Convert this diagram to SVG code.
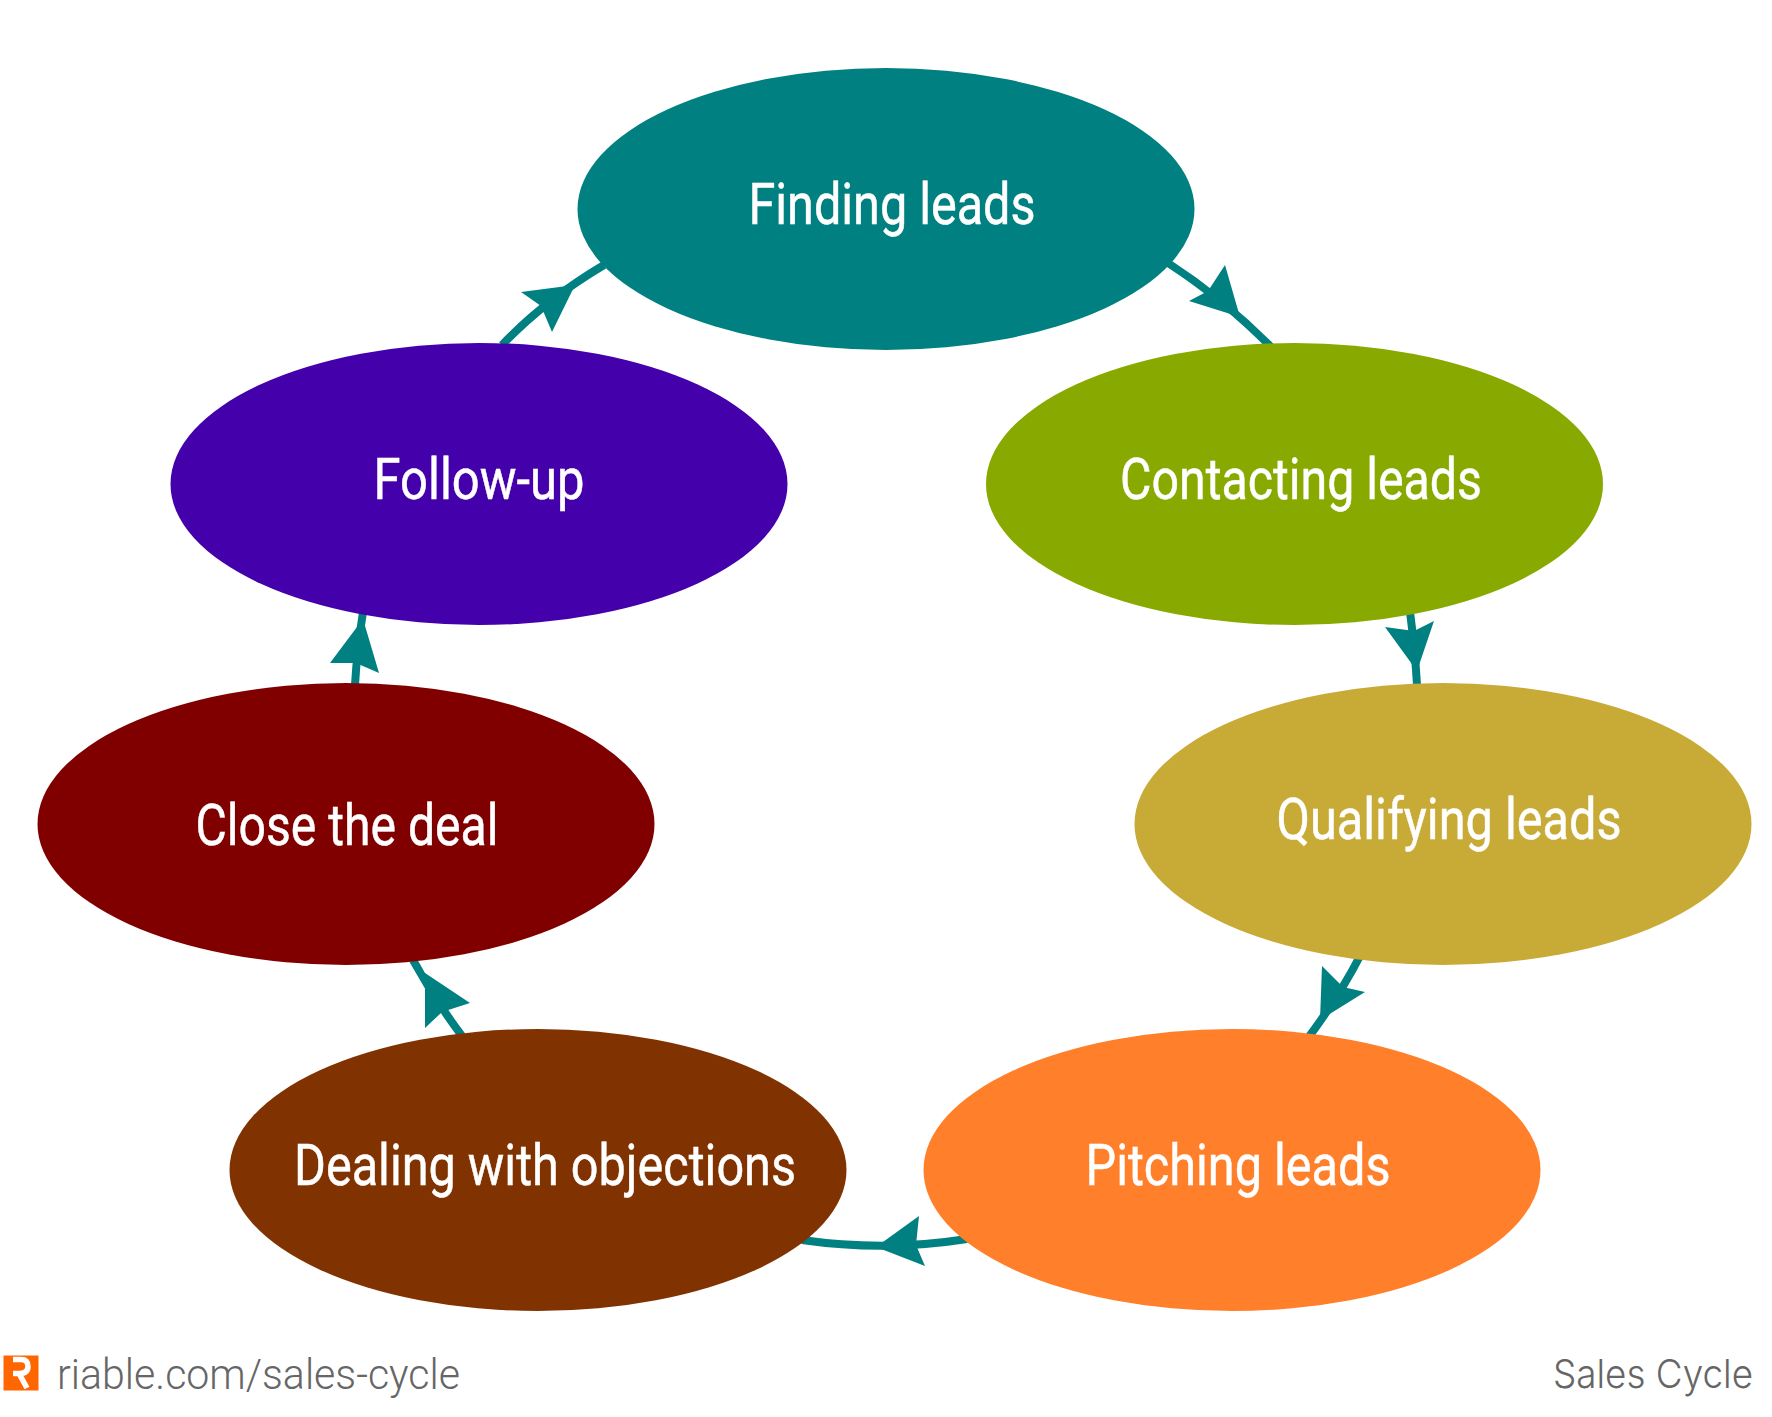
<svg xmlns="http://www.w3.org/2000/svg" width="1772" height="1417" viewBox="0 0 1772 1417">
<style>
.lbl{font-family:"Roboto","Liberation Sans",sans-serif;font-size:58px;fill:#fff;stroke:#fff;stroke-width:.5;text-anchor:middle}
.foot{font-family:"Roboto","Liberation Sans",sans-serif;font-weight:300;font-size:42px;fill:#666}
.foot2{font-family:"Inter","Liberation Sans",sans-serif;font-weight:300;font-size:40px;fill:#666}
.conn{fill:none;stroke:#008080;stroke-width:8}
.head{fill:#008080}
</style>
<rect width="1772" height="1417" fill="#fff"/>
<g id="connectors">
<path class="conn" d="M1168 263Q1225 300 1272 348"/>
<polygon class="head" points="1225,265 1240,317 1189,301 1208,291"/>
<path class="conn" d="M1410 612Q1415 650 1417 685"/>
<polygon class="head" points="1385,627 1414,631 1434,621 1417,671"/>
<path class="conn" d="M1360 956Q1340 995 1308 1038"/>
<polygon class="head" points="1322,966 1343,987 1365,992 1320,1020"/>
<path class="conn" d="M967 1239Q885 1252 802 1240"/>
<polygon class="head" points="919,1216 916,1245 925,1266 876,1247"/>
<path class="conn" d="M462 1036Q435 1000 413 960"/>
<polygon class="head" points="470,1003 442,1012 425,1028 425,973"/>
<path class="conn" d="M355 685Q357 650 363 612"/>
<polygon class="head" points="330,663 356,663 379,673 363,619"/>
<path class="conn" d="M502 345Q545 300 604 265"/>
<polygon class="head" points="521,292 541,306 552,332 575,285"/>
</g>
<g id="node-finding"><ellipse cx="886" cy="209" rx="308.5" ry="141" fill="#008080"/><text class="lbl" x="892" y="224" textLength="287" lengthAdjust="spacingAndGlyphs">Finding leads</text></g>
<g id="node-contacting"><ellipse cx="1294.5" cy="484" rx="308.5" ry="141" fill="#88aa00"/><text class="lbl" x="1301" y="499" textLength="362" lengthAdjust="spacingAndGlyphs">Contacting leads</text></g>
<g id="node-qualifying"><ellipse cx="1443" cy="824" rx="308.5" ry="141" fill="#c8ab37"/><text class="lbl" x="1449" y="839" textLength="345" lengthAdjust="spacingAndGlyphs">Qualifying leads</text></g>
<g id="node-pitching"><ellipse cx="1232" cy="1170" rx="308.5" ry="141" fill="#ff7f2a"/><text class="lbl" x="1238" y="1185" textLength="305" lengthAdjust="spacingAndGlyphs">Pitching leads</text></g>
<g id="node-dealing"><ellipse cx="538" cy="1170" rx="308.5" ry="141" fill="#803300"/><text class="lbl" x="545" y="1185" textLength="502" lengthAdjust="spacingAndGlyphs">Dealing with objections</text></g>
<g id="node-close"><ellipse cx="346" cy="824" rx="308.5" ry="141" fill="#800000"/><text class="lbl" x="347" y="845" textLength="303" lengthAdjust="spacingAndGlyphs">Close the deal</text></g>
<g id="node-followup"><ellipse cx="479" cy="484" rx="308.5" ry="141" fill="#4400aa"/><text class="lbl" x="479" y="499" textLength="211" lengthAdjust="spacingAndGlyphs">Follow-up</text></g>
<g id="footer">
<rect x="3.5" y="1355.5" width="35" height="35" fill="#ff6600"/>
<path d="M13 1359.5H21Q28 1359.5 28 1366.5Q28 1373.5 19 1373.5H13M19 1373.5L27 1388" fill="none" stroke="#fff" stroke-width="5.5"/>
<text class="foot" x="57" y="1389" textLength="403" lengthAdjust="spacingAndGlyphs">riable.com/sales-cycle</text>
<text class="foot2" x="1553" y="1388" textLength="200" lengthAdjust="spacingAndGlyphs">Sales Cycle</text>
</g>
</svg>
